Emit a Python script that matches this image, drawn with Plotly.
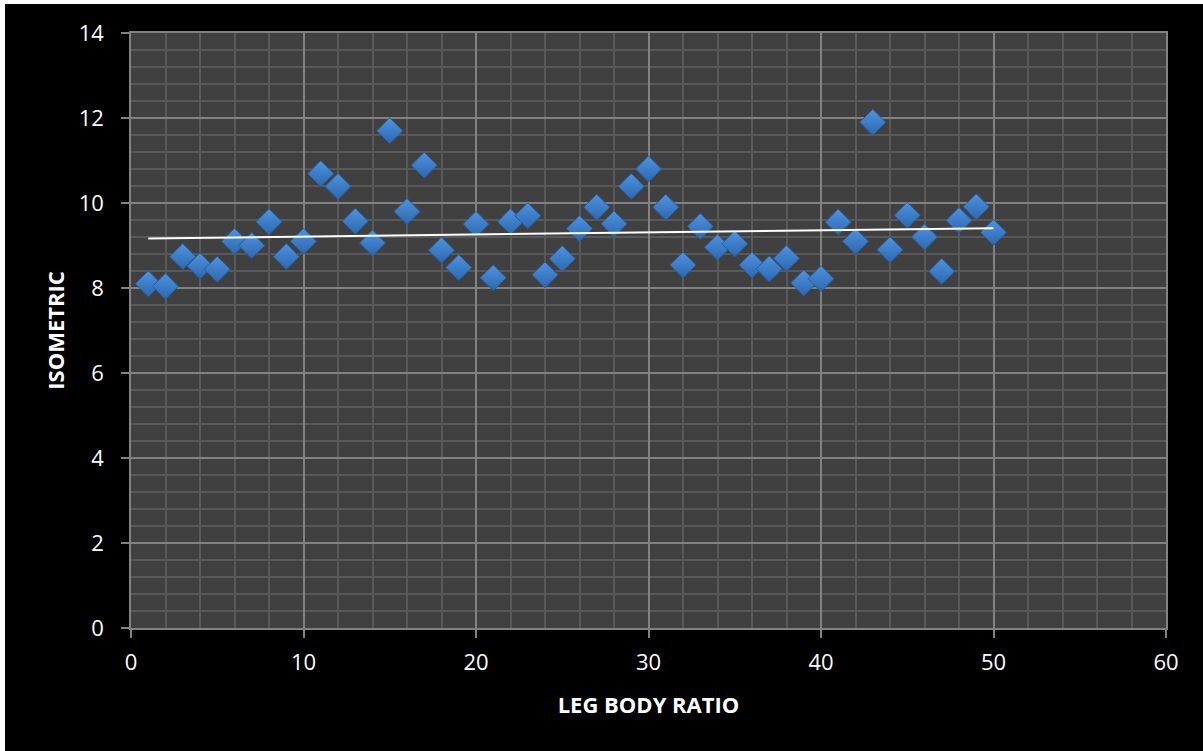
import numpy as np
import plotly.graph_objects as go

# Leg body ratio (sample index) vs isometric strength
leg_body_ratio = list(range(1, 51))
isometric = [
    8.10, 8.04, 8.74, 8.52, 8.44, 9.10, 9.00, 9.56, 8.74, 9.10,
    10.69, 10.39, 9.57, 9.06, 11.70, 9.80, 10.89, 8.89, 8.48, 9.50,
    8.24, 9.56, 9.70, 8.31, 8.69, 9.40, 9.90, 9.51, 10.39, 10.80,
    9.90, 8.54, 9.45, 8.96, 9.04, 8.54, 8.45, 8.70, 8.12, 8.22,
    9.55, 9.10, 11.90, 8.90, 9.71, 9.20, 8.39, 9.59, 9.91, 9.31,
]
x_ticks = [0, 10, 20, 30, 40, 50, 60]
y_ticks = [0, 2, 4, 6, 8, 10, 12, 14]

# Linear trendline through the data
slope, intercept = np.polyfit(leg_body_ratio, isometric, 1)
trend_x = [leg_body_ratio[0], leg_body_ratio[-1]]
trend_y = [slope * v + intercept for v in trend_x]

W, H = 1203, 751
ML, MR, MT, MB = 131, 37, 33, 123
pw, ph = W - ML - MR, H - MT - MB

FONT = "Open Sans"
GRID_MAJOR = "#828282"
GRID_MINOR = "#595959"

fig = go.Figure()
fig.add_trace(go.Scatter(
    x=leg_body_ratio, y=isometric, mode="markers",
    marker=dict(symbol="diamond", size=20, color="#4f93e0",
                gradient=dict(type="vertical", color="#2c68b0"),
                line=dict(color="#2a5c99", width=1)),
    showlegend=False, hoverinfo="x+y",
))
fig.add_trace(go.Scatter(
    x=trend_x, y=trend_y, mode="lines",
    line=dict(color="white", width=2), showlegend=False, hoverinfo="skip",
))

axis_common = dict(
    showline=True, linecolor=GRID_MAJOR, linewidth=1.5, mirror=True,
    showgrid=True, gridcolor=GRID_MAJOR, gridwidth=1.5,
    ticks="outside", ticklen=8, tickwidth=1.5, tickcolor=GRID_MAJOR,
    zeroline=False,
    tickfont=dict(family=FONT, size=22, color="white"),
)

fig.update_layout(
    width=W, height=H,
    margin=dict(l=ML, r=MR, t=MT, b=MB),
    paper_bgcolor="black", plot_bgcolor="#404040",
    font=dict(family=FONT, color="white"),
    xaxis=dict(
        range=[0, 60], tickvals=x_ticks,
        minor=dict(dtick=2, showgrid=True, gridcolor=GRID_MINOR, gridwidth=1.5),
        title=dict(text="<b>LEG BODY RATIO</b>",
                   font=dict(family=FONT, size=22, color="white"), standoff=22),
        ticklabelstandoff=6,
        **axis_common,
    ),
    yaxis=dict(
        range=[0, 14], tickvals=y_ticks,
        minor=dict(dtick=0.4, showgrid=True, gridcolor=GRID_MINOR, gridwidth=1.5),
        title=dict(text="<b>ISOMETRIC</b>",
                   font=dict(family=FONT, size=22, color="white"), standoff=8),
        ticklabelstandoff=13,
        **axis_common,
    ),
    shapes=[
        # white strips along the left and top edges of the page
        dict(type="rect", xref="paper", yref="paper",
             x0=-ML / pw, x1=(5 - ML) / pw, y0=-MB / ph, y1=(ph + MT) / ph,
             fillcolor="white", line=dict(width=0), layer="below"),
        dict(type="rect", xref="paper", yref="paper",
             x0=-ML / pw, x1=(pw + MR) / pw, y0=(ph + MT - 4) / ph, y1=(ph + MT) / ph,
             fillcolor="white", line=dict(width=0), layer="below"),
    ],
)

fig.write_html("out.html")
